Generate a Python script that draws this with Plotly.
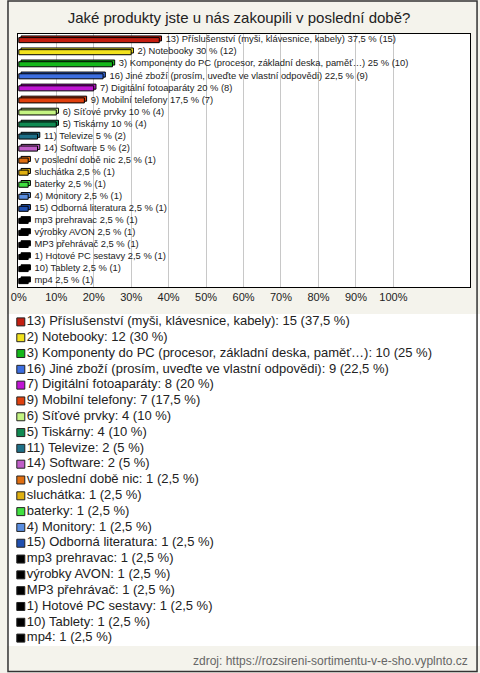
import plotly.graph_objects as go

categories = [
    "13) Příslušenství (myši, klávesnice, kabely)",
    "2) Notebooky",
    "3) Komponenty do PC (procesor, základní deska, paměť…)",
    "16) Jiné zboží (prosím, uveďte ve vlastní odpovědi)",
    "7) Digitální fotoaparáty",
    "9) Mobilní telefony",
    "6) Síťové prvky",
    "5) Tiskárny",
    "11) Televize",
    "14) Software",
    "v poslední době nic",
    "sluchátka",
    "baterky",
    "4) Monitory",
    "15) Odborná literatura",
    "mp3 prehravac",
    "výrobky AVON",
    "MP3 přehrávač",
    "1) Hotové PC sestavy",
    "10) Tablety",
    "mp4",
]
counts = [15, 12, 10, 9, 8, 7, 4, 4, 2, 2, 1, 1, 1, 1, 1, 1, 1, 1, 1, 1, 1]
percents = [37.5, 30, 25, 22.5, 20, 17.5, 10, 10, 5, 5, 2.5, 2.5, 2.5, 2.5, 2.5,
            2.5, 2.5, 2.5, 2.5, 2.5, 2.5]
colors = [
    "#c41e10", "#f2e21e", "#14b81a", "#3c6ee0", "#c014d4", "#e0400e",
    "#c4f482", "#108a52", "#1e7088", "#c05ec8", "#e06e10", "#e0b010",
    "#40e040", "#5a8ee0", "#2050b0", "#000000", "#000000", "#000000",
    "#000000", "#000000", "#000000",
]
tick_values = [0, 10, 20, 30, 40, 50, 60, 70, 80, 90, 100]
tick_labels = ["0%", "10%", "20%", "30%", "40%", "50%", "60%", "70%", "80%", "90%", "100%"]
title_text = "Jaké produkty jste u nás zakoupili v poslední době?"
source_text = "zdroj: https://rozsireni-sortimentu-v-e-sho.vyplnto.cz"

W, H = 480, 673


def fx(p):
    return p / W


def fy(p):
    return 1 - p / H


def fmt(p):
    s = ("%g" % p).replace(".", ",")
    return s


rows = list(range(len(categories)))
bar_text = [f"{c} {fmt(p)} % ({n})" for c, p, n in zip(categories, percents, counts)]
legend_text = [f"{c}: {n} ({fmt(p)} %)" for c, p, n in zip(categories, percents, counts)]

depth = 0.6
fig = go.Figure()

# 3D depth part
fig.add_trace(go.Bar(
    x=percents, y=rows, base=depth, orientation="h", width=0.42, offset=-0.34,
    marker=dict(color=colors, line=dict(color="black", width=1)),
    showlegend=False, hoverinfo="skip",
))
# face
fig.add_trace(go.Bar(
    x=percents, y=rows, orientation="h", width=0.42, offset=-0.2,
    marker=dict(color=colors, line=dict(color="black", width=1)),
    showlegend=False, hoverinfo="skip",
))
# value labels
fig.add_trace(go.Scatter(
    x=[p + 1.7 for p in percents], y=rows, mode="text", text=bar_text,
    textposition="middle right",
    textfont=dict(family="Liberation Sans, Arial", size=9.4, color="#222"),
    showlegend=False, hoverinfo="skip", cliponaxis=False,
))
# custom legend
fig.add_trace(go.Scatter(
    x=[14] * len(rows), y=rows, mode="markers+text", text=legend_text,
    textposition="middle right",
    marker=dict(symbol="square", size=8, color=colors, line=dict(color="#222", width=1)),
    textfont=dict(family="Liberation Sans, Arial", size=13, color="#222"),
    xaxis="x2", yaxis="y2", showlegend=False, hoverinfo="skip", cliponaxis=False,
))

fig.update_layout(
    width=W, height=H,
    margin=dict(l=0, r=0, t=0, b=0),
    paper_bgcolor="#f4f3ec",
    plot_bgcolor="white",
    barmode="overlay",
    showlegend=False,
    title=dict(text=title_text, x=fx(239), xanchor="center", y=fy(18), yanchor="middle",
               font=dict(family="Liberation Sans, Arial", size=15, color="#222")),
    xaxis=dict(domain=[fx(11), fx(470)], range=[-0.26, 120.5], tickvals=tick_values,
               ticktext=tick_labels, showgrid=True, gridcolor="#c8c8c8", gridwidth=1,
               zeroline=False, showline=True, linecolor="black", linewidth=1, mirror=True,
               ticks="", tickfont=dict(family="Liberation Sans, Arial", size=11, color="#222"),
               fixedrange=True),
    yaxis=dict(domain=[fy(287), fy(34)], range=[20.5, -0.5], showticklabels=False,
               showgrid=False, zeroline=False, showline=True, linecolor="black",
               linewidth=1, mirror=True, ticks="", fixedrange=True),
    xaxis2=dict(domain=[0, 1], range=[0, W], visible=False, anchor="y2", fixedrange=True),
    yaxis2=dict(domain=[fy(646), fy(314)], range=[20.5, -0.5], visible=False,
                anchor="x2", fixedrange=True),
    annotations=[dict(text=source_text, x=fx(470), y=fy(661), xref="paper", yref="paper",
                      xanchor="right", yanchor="middle", showarrow=False,
                      font=dict(family="Liberation Sans, Arial", size=12, color="#666"))],
    shapes=[dict(type="rect", xref="paper", yref="paper", x0=fx(1), x1=fx(477),
                 y0=fy(671.5), y1=fy(1), line=dict(color="#333", width=1.5))],
)

fig.write_html("out.html", config={"displayModeBar": False},
               post_script="document.body.style.margin='0';")
